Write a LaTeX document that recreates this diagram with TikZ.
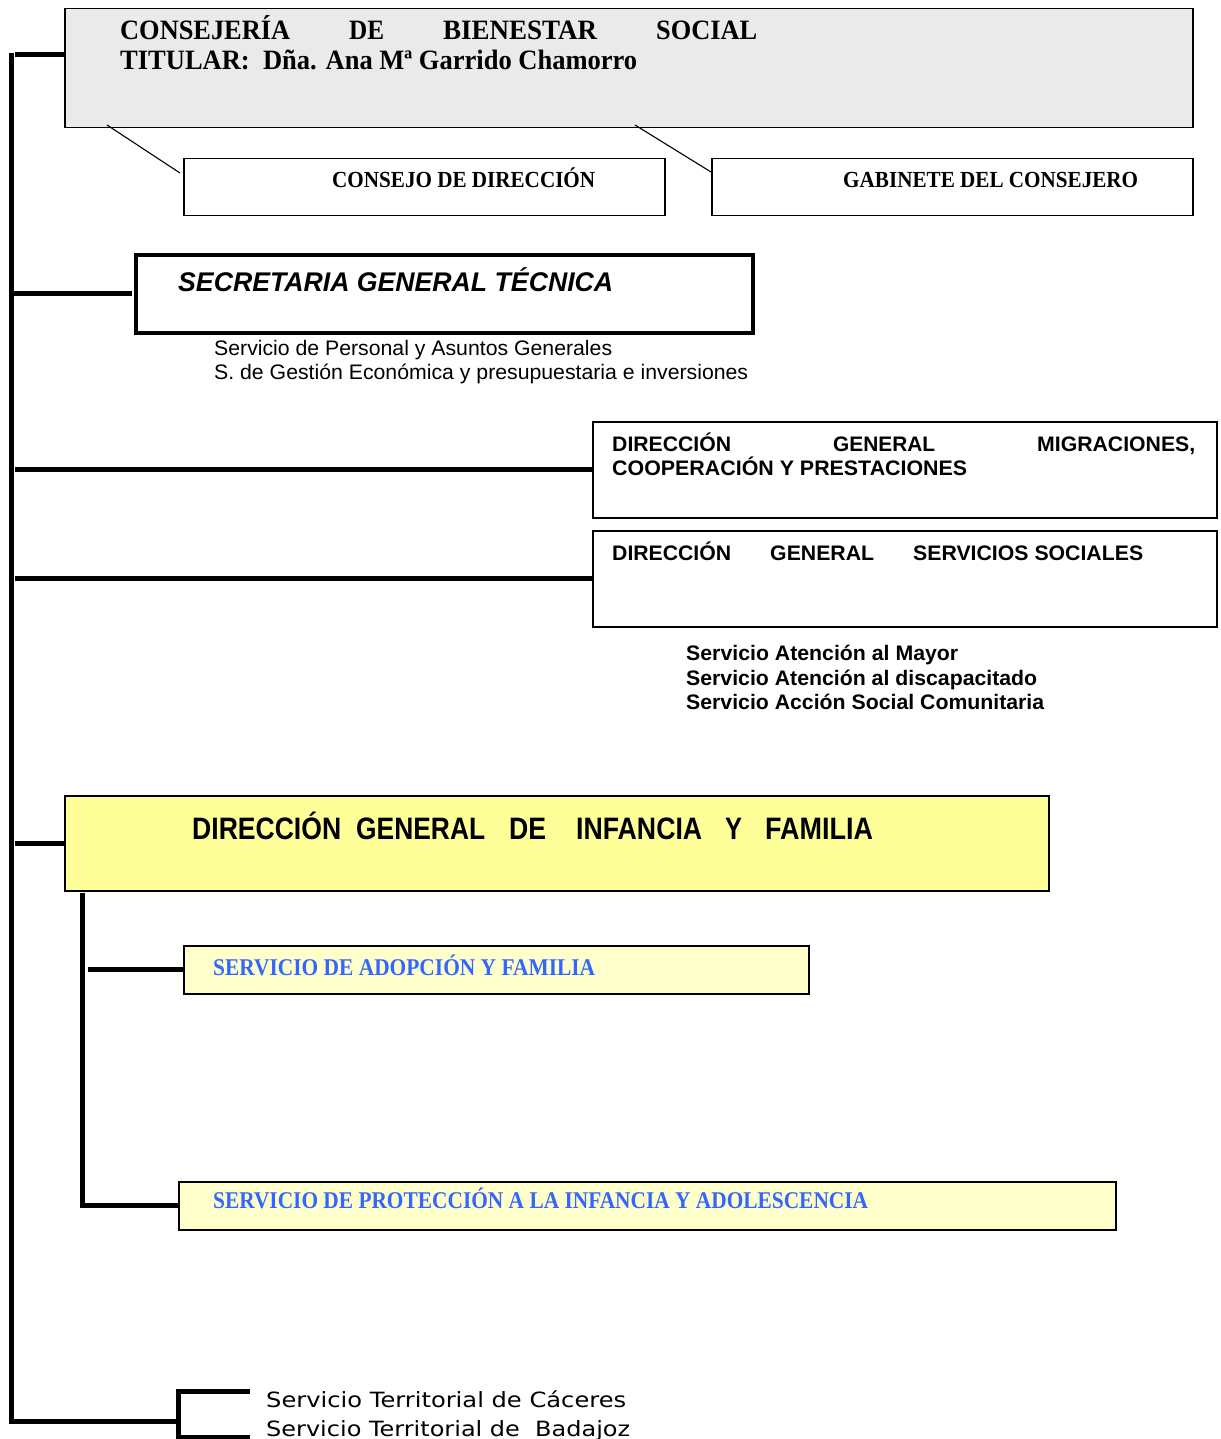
\documentclass[tikz,border=0pt]{standalone}
\usepackage{fontspec}
\usepackage{graphicx}
\setmainfont{Liberation Serif}
\setsansfont{Liberation Sans}
\newfontfamily\terrfont{DejaVu Sans}
\usetikzlibrary{calc}
\definecolor{boxgray}{RGB}{234,234,234}
\definecolor{dgyellow}{RGB}{255,255,153}
\definecolor{svyellow}{RGB}{255,255,204}
\definecolor{svblue}{RGB}{51,102,255}
\newsavebox\fitbox
\newcommand\fitw[2]{\sbox\fitbox{#2}\pgfmathsetmacro\fitr{#1/\the\wd\fitbox}\scalebox{\fitr}[1]{\usebox\fitbox}}
\newcommand\fs[1]{\fontsize{#1}{#1}\selectfont}
\begin{document}
\begin{tikzpicture}[x=1pt,y=-1pt,
  box/.style={draw, line width=1.5pt, rectangle, anchor=north west, inner sep=0pt},
  lbl/.style={anchor=base west, inner sep=0pt},
  trunk/.style={line width=5pt},
  diag/.style={line width=1.1pt}]
\useasboundingbox (0,0) rectangle (1220,1439);
% boxes
\node[box, fill=boxgray, minimum width=1128pt, minimum height=119pt] (cons) at (64,8) {};
\node[box, minimum width=481pt, minimum height=57pt] (consejo) at (183,158) {};
\node[box, minimum width=481pt, minimum height=57pt] (gab) at (711,158) {};
\node[box, line width=4pt, minimum width=617pt, minimum height=78pt] (sgt) at (134,253) {};
\node[box, minimum width=624pt, minimum height=96pt] (dgm) at (592,421) {};
\node[box, minimum width=624pt, minimum height=96pt] (dgs) at (592,530) {};
\node[box, fill=dgyellow, minimum width=984pt, minimum height=95pt] (dgi) at (64,795) {};
\node[box, fill=svyellow, minimum width=625pt, minimum height=48pt] (ado) at (183,945) {};
\node[box, fill=svyellow, minimum width=937pt, minimum height=48pt] (pro) at (178,1181) {};
% texts
\node[lbl, font=\bfseries\fs{28}] (t1) at (120,40) {\makebox[637pt][s]{\fitw{170}{CONSEJERÍA}\hfill \fitw{35}{DE}\hfill \fitw{154}{BIENESTAR}\hfill \fitw{101}{SOCIAL}}};
\node[lbl, font=\bfseries\fs{28}] (t2) at (120,70) {\fitw{517}{TITULAR:\ \ Dña. Ana Mª Garrido Chamorro}};
\node[lbl, font=\bfseries\fs{23}] (t3) at (332,188) {\fitw{263}{CONSEJO DE DIRECCIÓN}};
\node[lbl, font=\bfseries\fs{23}] (t4) at (843,188) {\fitw{295}{GABINETE DEL CONSEJERO}};
\node[lbl, font=\sffamily\bfseries\itshape\fs{27}] (t5) at (178,291) {\fitw{435}{SECRETARIA GENERAL TÉCNICA}};
\node[lbl, font=\sffamily\fs{21}] (t6) at (214,355) {\fitw{398}{Servicio de Personal y Asuntos Generales}};
\node[lbl, font=\sffamily\fs{21}] (t7) at (214,379) {\fitw{534}{S. de Gestión Económica y presupuestaria e inversiones}};
\node[lbl, font=\sffamily\bfseries\fs{21}] (t8) at (612,451) {\makebox[583pt][s]{\fitw{119}{DIRECCIÓN}\hfill \fitw{102}{GENERAL}\hfill \fitw{158}{MIGRACIONES,}}};
\node[lbl, font=\sffamily\bfseries\fs{21}] (t9) at (612,475) {\fitw{355}{COOPERACIÓN Y PRESTACIONES}};
\node[lbl, font=\sffamily\bfseries\fs{21}] (t10) at (612,560) {\makebox[531pt][s]{\fitw{119}{DIRECCIÓN}\hfill \fitw{104}{GENERAL}\hfill \fitw{230}{SERVICIOS SOCIALES}}};
\node[lbl, font=\sffamily\bfseries\fs{21}] (t11) at (686,660) {\fitw{272}{Servicio Atención al Mayor}};
\node[lbl, font=\sffamily\bfseries\fs{21}] (t12) at (686,685) {\fitw{351}{Servicio Atención al discapacitado}};
\node[lbl, font=\sffamily\bfseries\fs{21}] (t13) at (686,709) {\fitw{358}{Servicio Acción Social Comunitaria}};
\node[lbl, font=\sffamily\bfseries\fs{31}] (t14) at (192,839) {\fitw{149}{DIRECCIÓN}\hspace{15pt}\fitw{129}{GENERAL}\hspace{24pt}\fitw{37}{DE}\hspace{30pt}\fitw{126}{INFANCIA}\hspace{23pt}\fitw{17}{Y}\hspace{23pt}\fitw{108}{FAMILIA}};
\node[lbl, font=\bfseries\fs{24}, text=svblue] (t15) at (213,975) {\fitw{382}{SERVICIO DE ADOPCIÓN Y FAMILIA}};
\node[lbl, font=\bfseries\fs{24}, text=svblue] (t16) at (213,1208) {\fitw{655}{SERVICIO DE PROTECCIÓN A LA INFANCIA Y ADOLESCENCIA}};
\node[lbl, font=\terrfont\fs{21}] (t17) at (266,1407) {\fitw{360}{Servicio Territorial de Cáceres}};
\node[lbl, font=\terrfont\fs{21}] (t18) at (266,1436) {\fitw{364}{Servicio Territorial de\ \ Badajoz}};
% diagonal links
\coordinate (d1) at (107,125);
\coordinate (d2) at (635,125);
\draw[diag] (d1) -- ($(consejo.north west)+(-3,15)$);
\draw[diag] (d2) -- ($(gab.north west)+(0,14)$);
% trunk
\coordinate (tTop) at (11,53);
\coordinate (tBot) at (11,1421);
\coordinate (brk) at (178,1421);
\coordinate (brkTop) at (178,1391);
\coordinate (brkBot) at (178,1450);
\coordinate (armTop) at (250,1391);
\coordinate (armBot) at (250,1437);
\draw[trunk] (tTop) -- (tBot) -- (brk);
\draw[trunk] (armTop) -- (brkTop) -- (brkBot);
\draw[trunk] (brkBot |- armBot) -- (armBot);
% branches
\coordinate (b1) at (15,55);
\coordinate (b2) at (14,293);
\coordinate (b3) at (15,469);
\coordinate (b4) at (15,578);
\coordinate (b5) at (15,843);
\coordinate (b6) at (88,969.5);
\coordinate (s1) at (82.5,893);
\draw[trunk] (b1) -- (b1 -| cons.west);
\draw[trunk] (b2) -- ($(b2 -| sgt.west)+(-2,0)$);
\draw[trunk] (b3) -- (b3 -| dgm.west);
\draw[trunk] (b4) -- (b4 -| dgs.west);
\draw[trunk] (b5) -- (b5 -| dgi.west);
\draw[trunk] (b6) -- (b6 -| ado.west);
\draw[trunk] (s1) -- (s1 |- pro.west) -- (pro.west);
\end{tikzpicture}
\end{document}
